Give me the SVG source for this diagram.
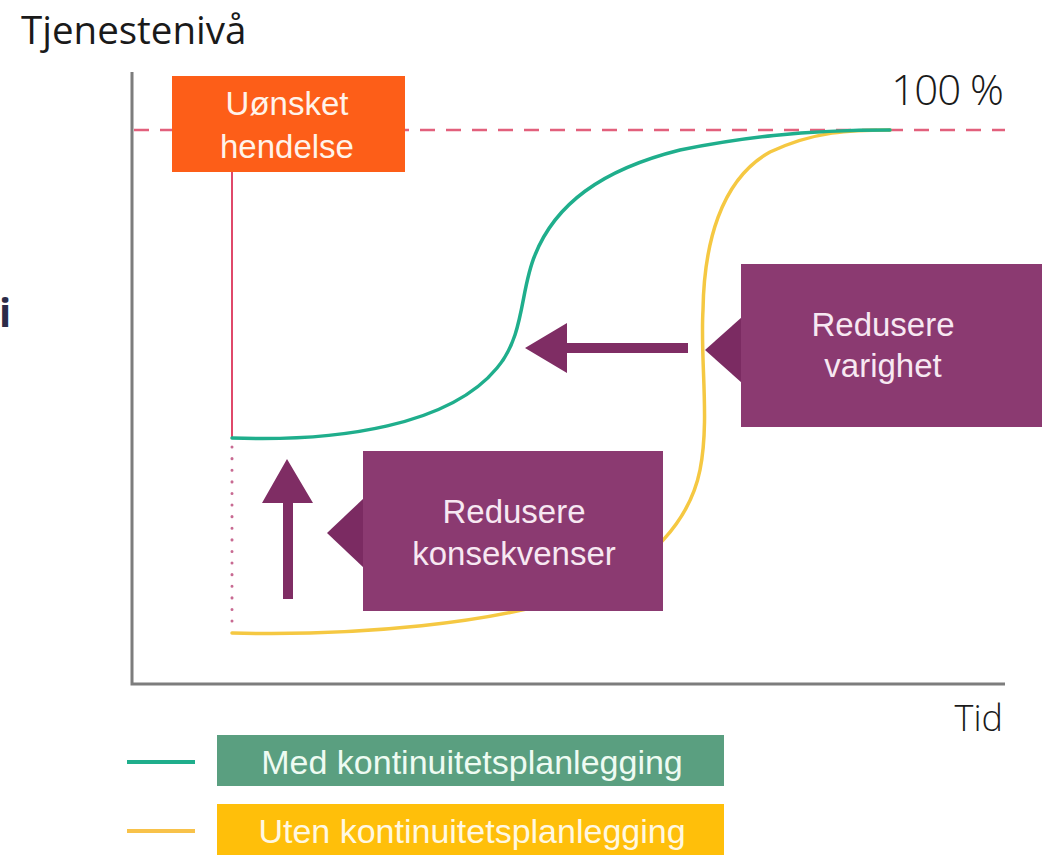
<svg xmlns="http://www.w3.org/2000/svg" width="1042" height="855" viewBox="0 0 1042 855">
<style>
.lbl{font-family:"Liberation Sans",Arial,sans-serif;font-size:33px;text-anchor:middle}
.plbl{fill:#f7e8f2}
.box{fill:#8b3a71}
.ptr{fill:#7b2b62}
.arr{fill:#7f2d64}
.axis{fill:none;stroke:#7d7d7d;stroke-width:3}
.curve{fill:none;stroke-width:3.5;stroke-linecap:round}
.gothic{font-family:"Open Sans","DejaVu Sans",sans-serif;fill:#1a1a1a}
</style>
<rect width="1042" height="855" fill="#ffffff"/>
<text x="-1" y="327" style="font-family:'Open Sans',sans-serif;font-weight:bold;font-size:40px;fill:#2b2b48">i</text>
<text x="21" y="44" class="gothic" style="font-size:38.5px">Tjenestenivå</text>
<text x="1003" y="105" class="gothic" style="font-size:42px;font-weight:300;text-anchor:end;letter-spacing:-1px">100 %</text>
<text x="1003" y="731" class="gothic" style="font-size:36px;font-weight:300;text-anchor:end">Tid</text>
<g id="connectors">
<path class="axis" d="M132,72 V684 H1005"/>
<line x1="134" y1="130" x2="1005" y2="130" stroke="#e2607c" stroke-width="2.5" stroke-dasharray="15 11"/>
<line x1="232" y1="171" x2="232" y2="438" stroke="#e0486a" stroke-width="2"/>
<line x1="232" y1="447" x2="232" y2="630" stroke="#c86a92" stroke-width="3" stroke-dasharray="0.1 11.5" stroke-linecap="round"/>
<path class="curve" stroke="#f5c842" d="M232,633 C350,636 500,625 590,590 C650,565 690,520 700,470 C710,420 700,360 703,310 C704,245 720,180 770,152 C815,131 850,130 890,130"/>
<path class="curve" stroke="#1fae8c" d="M232,438 C340,442 450,425 497,368 C525,335 520,290 535,255 C555,205 600,170 680,150 C740,138 800,130 890,130"/>
<path class="arr" d="M287,459 L313,503 L293,503 L293,599 L283,599 L283,503 L262,503 Z"/>
<path class="arr" d="M525,348 L567,323 L567,343 L688,343 L688,353 L567,353 L567,373 Z"/>
</g>
<g id="node-event">
<rect x="172" y="76" width="233" height="96" fill="#fd5e18"/>
<text class="lbl" x="287" y="115" fill="#fff3ea">Uønsket</text>
<text class="lbl" x="287" y="158" fill="#fff3ea">hendelse</text>
</g>
<g id="node-konsekvenser">
<path class="ptr" d="M327,533 L364,498 L364,568 Z"/>
<rect class="box" x="363" y="451" width="300" height="160"/>
<text class="lbl plbl" x="514" y="523">Redusere</text>
<text class="lbl plbl" x="514" y="565">konsekvenser</text>
</g>
<g id="node-varighet">
<path class="ptr" d="M705,350 L742,317 L742,383 Z"/>
<rect class="box" x="741" y="264" width="301" height="163"/>
<text class="lbl plbl" x="883" y="336">Redusere</text>
<text class="lbl plbl" x="883" y="377">varighet</text>
</g>
<g id="legend-med">
<line x1="127" y1="762" x2="195" y2="762" stroke="#1fae8c" stroke-width="4"/>
<rect x="217" y="735" width="507" height="51" fill="#5a9f80"/>
<text class="lbl" x="472" y="774" fill="#eefbf2" style="font-size:34px">Med kontinuitetsplanlegging</text>
</g>
<g id="legend-uten">
<line x1="127" y1="831" x2="195" y2="831" stroke="#f8c24a" stroke-width="4"/>
<rect x="217" y="804" width="507" height="51" fill="#ffbf0a"/>
<text class="lbl" x="472" y="843" fill="#fff8e2" style="font-size:34px">Uten kontinuitetsplanlegging</text>
</g>
</svg>
